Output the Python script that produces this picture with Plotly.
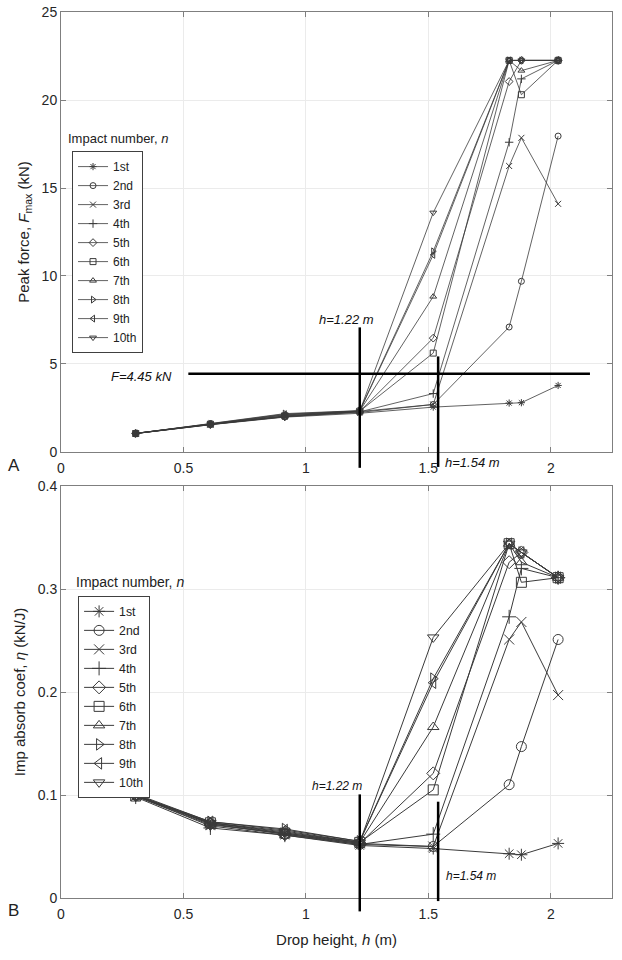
import plotly.graph_objects as go

# drop heights (m)
heights = [0.305, 0.61, 0.914, 1.22, 1.52, 1.83, 1.88, 2.03]
impacts = ['1st', '2nd', '3rd', '4th', '5th', '6th', '7th', '8th', '9th', '10th']
symbols = ['asterisk-open', 'circle-open', 'x-thin-open', 'cross-thin-open', 'diamond-open',
           'square-open', 'triangle-up-open', 'triangle-right-open', 'triangle-left-open',
           'triangle-down-open']

# peak force F_max (kN), one list per impact number
f_1st = [1.05, 1.55, 1.98, 2.20, 2.55, 2.78, 2.80, 3.78]
f_2nd = [1.06, 1.58, 2.00, 2.25, 2.70, 7.10, 9.70, 17.95]
f_3rd = [1.05, 1.57, 2.05, 2.30, 2.70, 16.25, 17.85, 14.10]
f_4th = [1.05, 1.56, 2.00, 2.28, 3.32, 17.60, 21.20, 22.25]
f_5th = [1.06, 1.57, 2.02, 2.30, 6.47, 21.05, 22.25, 22.25]
f_6th = [1.05, 1.58, 2.05, 2.32, 5.62, 22.25, 20.30, 22.25]
f_7th = [1.06, 1.59, 2.10, 2.33, 8.83, 22.25, 21.67, 22.25]
f_8th = [1.05, 1.60, 2.18, 2.35, 11.40, 22.25, 22.25, 22.25]
f_9th = [1.06, 1.60, 2.15, 2.34, 11.20, 22.25, 22.25, 22.25]
f_10th = [1.05, 1.58, 2.12, 2.32, 13.60, 22.25, 22.25, 22.25]

# impact absorption coefficient eta (kN/J)
e_1st = [0.099, 0.070, 0.061, 0.051, 0.048, 0.043, 0.042, 0.053]
e_2nd = [0.100, 0.072, 0.062, 0.052, 0.050, 0.110, 0.147, 0.251]
e_3rd = [0.099, 0.071, 0.063, 0.053, 0.050, 0.251, 0.268, 0.197]
e_4th = [0.098, 0.068, 0.061, 0.052, 0.062, 0.273, 0.320, 0.311]
e_5th = [0.100, 0.072, 0.062, 0.053, 0.121, 0.326, 0.3355, 0.311]
e_6th = [0.099, 0.073, 0.063, 0.054, 0.105, 0.344, 0.3065, 0.311]
e_7th = [0.100, 0.073, 0.065, 0.054, 0.166, 0.344, 0.326, 0.311]
e_8th = [0.101, 0.074, 0.067, 0.055, 0.213, 0.344, 0.3355, 0.311]
e_9th = [0.100, 0.074, 0.066, 0.055, 0.209, 0.344, 0.3355, 0.311]
e_10th = [0.099, 0.073, 0.064, 0.054, 0.253, 0.344, 0.3355, 0.311]

force = [f_1st, f_2nd, f_3rd, f_4th, f_5th, f_6th, f_7th, f_8th, f_9th, f_10th]
eta = [e_1st, e_2nd, e_3rd, e_4th, e_5th, e_6th, e_7th, e_8th, e_9th, e_10th]

# reference markers
H_A = 1.22
H_B = 1.54
F_LIM = 4.45

X_MAX = 2.25
F_MAX = 25
E_MAX = 0.4
TOP_DOM = [0.5034, 1.0]
BOT_DOM = [0.0, 0.465]

FONT = 'Arial, Liberation Sans, sans-serif'
INK = '#3a3a3a'


def paper_y(v, vmax, dom):
    return dom[0] + v / vmax * (dom[1] - dom[0])


fig = go.Figure()

for name, sym, f in zip(impacts, symbols, force):
    fig.add_trace(go.Scatter(x=heights, y=f, name=name, mode='lines+markers',
                             line=dict(color=INK, width=0.8),
                             marker=dict(symbol=sym, size=6, color=INK, line=dict(width=1, color=INK)),
                             xaxis='x', yaxis='y', legend='legend'))

for name, sym, e in zip(impacts, symbols, eta):
    fig.add_trace(go.Scatter(x=heights, y=e, name=name, mode='lines+markers',
                             line=dict(color=INK, width=1),
                             marker=dict(symbol=sym, size=10, color=INK, line=dict(width=1, color=INK)),
                             xaxis='x2', yaxis='y2', legend='legend2'))

axis_style = dict(showline=True, linecolor='#7f7f7f', linewidth=1, mirror='ticks',
                  ticks='inside', ticklen=5, tickcolor='#7f7f7f', automargin=False,
                  showgrid=True, gridcolor='#ebebeb', gridwidth=1, zeroline=False,
                  tickfont=dict(family=FONT, size=14, color='#262626'))

fig.update_layout(
    width=622, height=960,
    margin=dict(l=61, r=10, t=12, b=62),
    paper_bgcolor='white', plot_bgcolor='white',
    font=dict(family=FONT, color='#222222'),
    showlegend=True,
    xaxis=dict(domain=[0, 1], range=[0, X_MAX], dtick=0.5, anchor='y', ticklabelstandoff=3,
               **axis_style),
    yaxis=dict(domain=TOP_DOM, range=[0, F_MAX], dtick=5, anchor='x',
               title=dict(text='Peak force, <i>F</i><sub>max</sub> (kN)', font=dict(size=15, family=FONT),
                          standoff=8),
               **axis_style),
    xaxis2=dict(domain=[0, 1], range=[0, X_MAX], dtick=0.5, anchor='y2', ticklabelstandoff=3,
                title=dict(text='Drop height, <i>h</i> (m)', font=dict(size=15, family=FONT),
                           standoff=13),
                **axis_style),
    yaxis2=dict(domain=BOT_DOM, range=[0, E_MAX], dtick=0.1, anchor='x2',
                title=dict(text='Imp absorb coef, <i>η</i> (kN/J)', font=dict(size=15, family=FONT),
                           standoff=8),
                **axis_style),
    legend=dict(x=0.02, y=0.843, xanchor='left', yanchor='top', bgcolor='white',
                bordercolor='#404040', borderwidth=1, font=dict(size=12, family=FONT),
                itemwidth=30, tracegroupgap=0),
    legend2=dict(x=0.031, y=0.341, xanchor='left', yanchor='top', bgcolor='white',
                 bordercolor='#404040', borderwidth=1, font=dict(size=12.3, family=FONT),
                 itemwidth=30, tracegroupgap=0),
)

thick = dict(color='black', width=2.5)
shapes = [
    # top panel
    dict(type='line', xref='x domain', yref='y domain', x0=H_A / X_MAX, x1=H_A / X_MAX,
         y0=-0.9 / F_MAX, y1=7.08 / F_MAX, line=thick),
    dict(type='line', xref='x domain', yref='y domain', x0=H_B / X_MAX, x1=H_B / X_MAX,
         y0=-0.85 / F_MAX, y1=5.43 / F_MAX, line=thick),
    dict(type='line', xref='x domain', yref='y domain', x0=0.52 / X_MAX, x1=2.16 / X_MAX,
         y0=F_LIM / F_MAX, y1=F_LIM / F_MAX, line=thick),
    # bottom panel
    dict(type='line', xref='x2 domain', yref='y2 domain', x0=H_A / X_MAX, x1=H_A / X_MAX,
         y0=-0.013 / E_MAX, y1=0.1006 / E_MAX, line=thick),
    dict(type='line', xref='x2 domain', yref='y2 domain', x0=H_B / X_MAX, x1=H_B / X_MAX,
         y0=-0.003 / E_MAX, y1=0.0935 / E_MAX, line=thick),
]
fig.update_layout(shapes=shapes)

italic = dict(family=FONT, size=13, color='#111111')
small_italic = dict(family=FONT, size=12, color='#111111')
annots = [
    dict(text='<i>h=1.22 m</i>', x=1.166, y=7.55, xref='x', yref='y', font=italic),
    dict(text='<i>F=4.45 kN</i>', x=0.327, y=4.3, xref='x', yref='y', font=italic),
    dict(text='<i>h=1.54 m</i>', x=1.56, y=paper_y(-0.6, F_MAX, TOP_DOM), xref='x', yref='paper',
         xanchor='left', font=italic),
    dict(text='<i>h=1.22 m</i>', x=1.127, y=0.109, xref='x2', yref='y2', font=small_italic),
    dict(text='<i>h=1.54 m</i>', x=1.562, y=0.021, xref='x2', yref='y2', xanchor='left',
         font=small_italic),
    # legend titles
    dict(text='Impact number, <i>n</i>', x=0.009, y=paper_y(17.8, F_MAX, TOP_DOM), xref='paper',
         yref='paper', xanchor='left', font=dict(family=FONT, size=13, color='#222222')),
    dict(text='Impact number, <i>n</i>', x=0.023, y=paper_y(0.307, E_MAX, BOT_DOM), xref='paper',
         yref='paper', xanchor='left', font=dict(family=FONT, size=14, color='#222222')),
    # panel labels
    dict(text='A', x=-0.1, y=paper_y(-0.74, F_MAX, TOP_DOM), xref='paper', yref='paper',
         xanchor='left', font=dict(family=FONT, size=17, color='#222222')),
    dict(text='B', x=-0.1, y=paper_y(-0.012, E_MAX, BOT_DOM), xref='paper', yref='paper',
         xanchor='left', font=dict(family=FONT, size=17, color='#222222')),
]
for a in annots:
    a['showarrow'] = False
    a['yanchor'] = 'middle'
fig.update_layout(annotations=annots)

fig.write_html("out.html", config={'displayModeBar': False},
               post_script="document.body.style.margin='0';")
